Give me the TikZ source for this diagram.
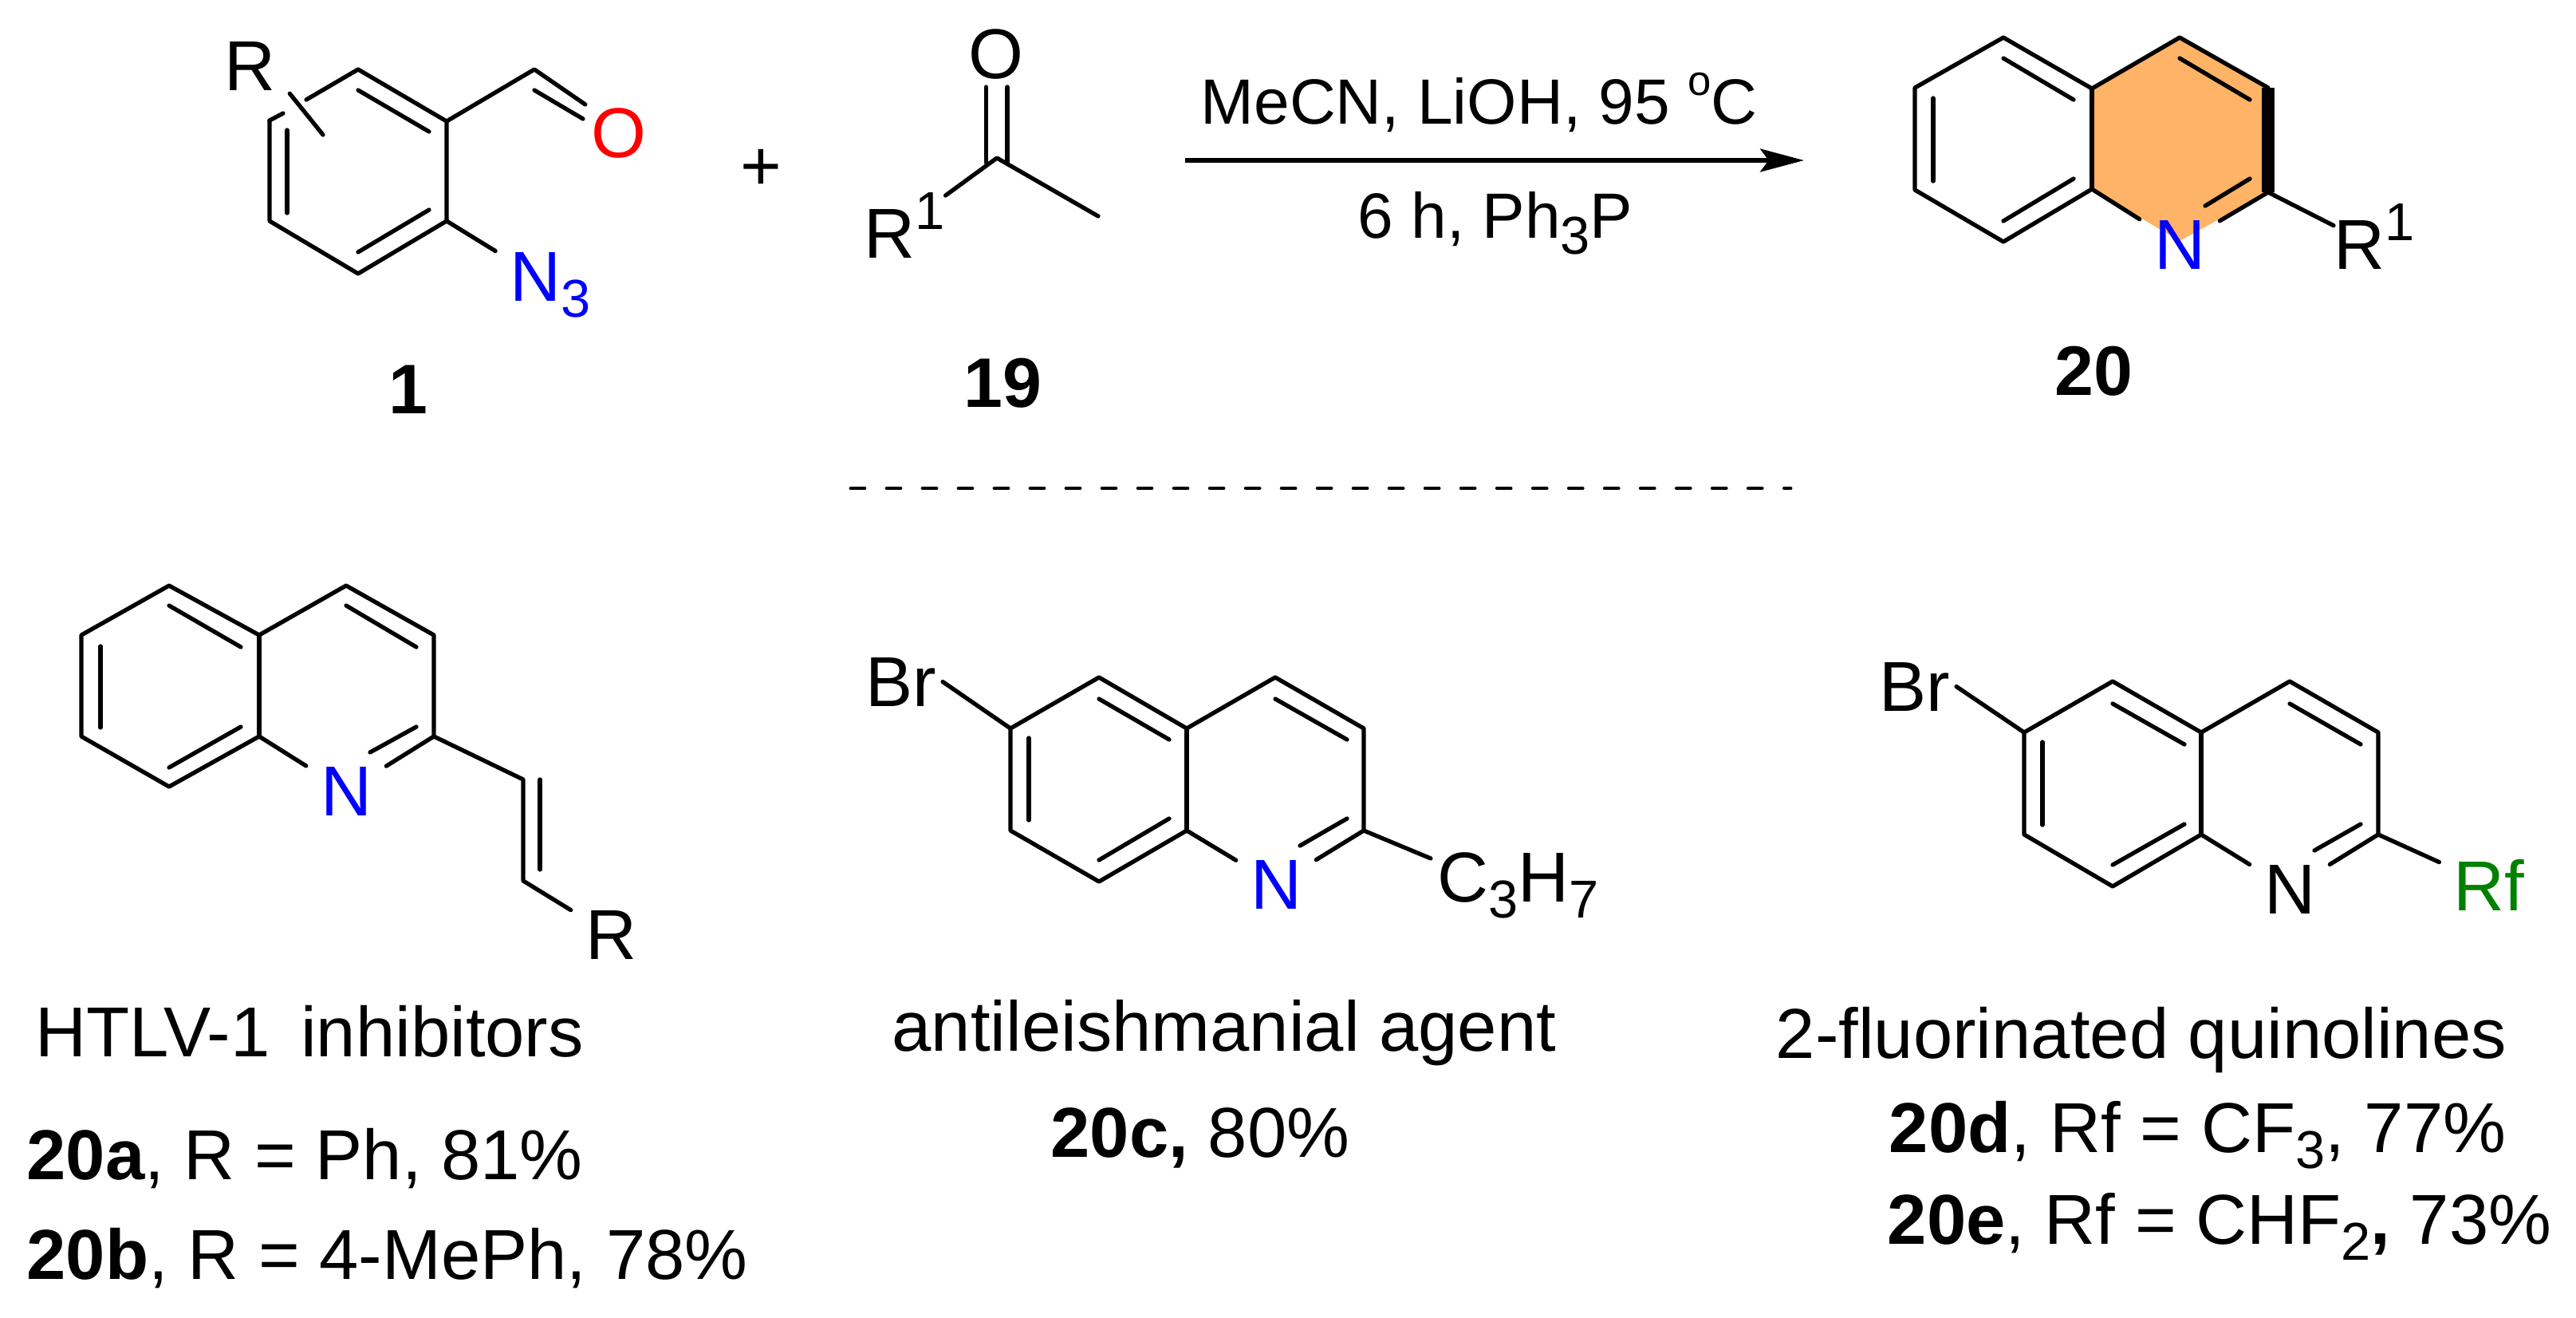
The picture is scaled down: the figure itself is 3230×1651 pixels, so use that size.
\documentclass[tikz,border=0pt]{standalone}
\usepackage{fontspec}
\setmainfont{Liberation Sans}
\usetikzlibrary{arrows.meta}
\definecolor{ringfill}{RGB}{255,179,102}
\definecolor{rfgreen}{RGB}{0,128,0}
\tikzset{
    bond/.style={line width=1.5pt,line cap=round,line join=round},
    atom/.style={inner xsep=5pt,inner ysep=1pt,anchor=base,font=\fontsize{25.2}{30}\selectfont},
    caption/.style={inner sep=0pt,anchor=base west,font=\fontsize{25.2}{30}\selectfont},
    reagent/.style={inner sep=0pt,anchor=base west,font=\fontsize{22.8}{27}\selectfont}
}
\begin{document}
\begin{tikzpicture}[x=0.01cm,y=-0.01cm]
        \def\lowr#1{\raisebox{-5.7pt}{\fontsize{19}{20}\selectfont #1}}
        \def\upr#1{\raisebox{10pt}{\fontsize{19}{20}\selectfont #1}}
        \def\quinoline#1{
            \draw[bond] (#15) -- (#14) -- (#13) -- (#12) -- (#11) -- (#16) -- (#17) -- (#18) -- (#19);
            \draw[bond] (#15) -- (#16);
            \draw[bond] (#1i1) -- (#1j1);
            \draw[bond] (#1i2) -- (#1j2);
            \draw[bond] (#1i4) -- (#1j4);
            \draw[bond] (#1i7) -- (#1j7);
            \draw[bond] (#1i9) -- (#1j9);
        }
        \useasboundingbox (0,0) rectangle (3230,1651);

        % Azido aldehyde
        \path coordinate (a1) at (449,87) coordinate (a2) at (560,152) coordinate (a3) at (560,277)
              coordinate (a4) at (449,343) coordinate (a5) at (338,277) coordinate (a6) at (338,151)
              coordinate (acho) at (670,87) coordinate (agapa) at (355,142) coordinate (agapb) at (384,125)
              coordinate (aend) at (405,169);
        \node[atom,text=red,inner xsep=2pt] (ao) at (776,197) {O};
        \node[atom,text=blue] (an) at (690,377) {N\lowr{3}};
        \node[atom] (ar) at (313,113) {R};
        \draw[bond] (a6) -- (agapa);
        \draw[bond] (agapb) -- (a1) -- (a2) -- (a3) -- (a4) -- (a5) -- (a6);
        \draw[bond] (ar.south east) -- (aend);
        \draw[bond] (a2) -- (acho) -- (ao.north west);
        \draw[bond] (670,113) -- (731,149);
        \draw[bond] (a3) -- (an);
        \draw[bond] (360,163) -- (360,267);
        \draw[bond] (449,113) -- (538,165);
        \draw[bond] (449,316) -- (538,263);
        \node[caption,font=\fontsize{25}{30}\bfseries] (lone) at (487,518) {1};

        \node[atom,inner sep=0pt] (plus) at (954,238) {+};

        % Methyl ketone
        \path coordinate (kc) at (1250,198) coordinate (kme) at (1377,271)
              coordinate (kla) at (1236.5,109) coordinate (klb) at (1236.5,204)
              coordinate (kra) at (1263,109) coordinate (krb) at (1263,204);
        \node[atom] (ko) at (1249,98) {O};
        \node[atom,inner xsep=0pt,anchor=base west] (kr) at (1083,323) {R\upr{1}};
        \draw[bond] (kla) -- (klb);
        \draw[bond] (kra) -- (krb);
        \draw[bond] (kr) -- (kc) -- (kme);
        \node[caption,font=\fontsize{25}{30}\bfseries] (lnineteen) at (1208,510) {19};

        % Reaction arrow
        \coordinate (arra) at (1486,201);
        \coordinate (arrb) at (2262,201);
        \draw[line width=1.6pt,-{Stealth[length=15.6pt,width=8.2pt,inset=3pt]}] (arra) -- (arrb);
        \node[reagent] (rtop) at (1505,155) {MeCN, LiOH, 95 \upr{\fontsize{15}{16}\selectfont o}C};
        \node[reagent] (rbot) at (1702,298) {6 h, Ph\lowr{3}P};

        % Product with shaded ring
        \path coordinate (p1) at (2512,47) coordinate (p2) at (2401,110) coordinate (p3) at (2401,238)
              coordinate (p4) at (2512,303) coordinate (p5) at (2623,237) coordinate (p6) at (2623,111)
              coordinate (p7) at (2733,47) coordinate (p8) at (2844,110) coordinate (p9) at (2844,241)
              coordinate (papex) at (2733,302)
              coordinate (pi1) at (2512,73) coordinate (pj1) at (2600,125)
              coordinate (pi2) at (2424,123) coordinate (pj2) at (2424,227)
              coordinate (pi4) at (2512,277) coordinate (pj4) at (2600,224)
              coordinate (pi7) at (2733,73) coordinate (pj7) at (2821,125)
              coordinate (pi9) at (2765,258) coordinate (pj9) at (2821,224)
              coordinate (pt) at (2844,110);
        \fill[ringfill] (p5) -- (p6) -- (p7) -- (p8) -- (p9) -- (papex) -- cycle;
        \node[atom,text=blue] (pn) at (2733,337) {N};
        \node[atom,inner xsep=0pt,anchor=base west] (pr) at (2926,337) {R\upr{1}};
        \quinoline{p}
        \draw[line width=4.6pt] (pt) -- (p9);
        \draw[bond] (p5) -- (pn);
        \draw[bond] (p9) -- (pn);
        \draw[bond] (p9) -- (pr.165);
        \node[caption,font=\fontsize{25}{30}\bfseries] (ltwenty) at (2576,495) {20};

        % Dashed rule
        \coordinate (rulea) at (1067,612);
        \coordinate (ruleb) at (2245,612);
        \draw[line width=1.4pt,line cap=round,dash pattern=on 4.8pt off 8pt] (rulea) -- (ruleb);

        % Vinyl quinoline
        \path coordinate (qa1) at (212,734) coordinate (qa2) at (102,796) coordinate (qa3) at (102,923)
              coordinate (qa4) at (212,986) coordinate (qa5) at (325,923) coordinate (qa6) at (325,796)
              coordinate (qa7) at (434,734) coordinate (qa8) at (544,796) coordinate (qa9) at (544,923)
              coordinate (qavb) at (656,977) coordinate (qavc) at (656,1104)
              coordinate (qai1) at (212,759) coordinate (qaj1) at (302,811)
              coordinate (qai2) at (126,810) coordinate (qaj2) at (126,912)
              coordinate (qai4) at (212,962) coordinate (qaj4) at (302,911)
              coordinate (qai7) at (434,759) coordinate (qaj7) at (522,811)
              coordinate (qai9) at (464,943) coordinate (qaj9) at (522,911)
              coordinate (qavi) at (677,977) coordinate (qavj) at (677,1090);
        \node[atom,text=blue] (qan) at (434,1022) {N};
        \node[atom] (qar) at (766,1202) {R};
        \quinoline{qa}
        \draw[bond] (qa5) -- (qan);
        \draw[bond] (qa9) -- (qan);
        \draw[bond] (qa9) -- (qavb) -- (qavc) -- (qar);
        \draw[bond] (qavi) -- (qavj);
        \node[caption] (qatitle) at (44,1324) {HTLV-1\hspace{11pt}inhibitors};
        \node[caption] (qay) at (33,1478) {\textbf{20a}, R = Ph, 81\%};
        \node[caption] (qby) at (33,1603) {\textbf{20b}, R = 4-MePh, 78\%};

        % Bromo propyl quinoline
        \path coordinate (qc1) at (1378,849) coordinate (qc2) at (1267,913) coordinate (qc3) at (1267,1041)
              coordinate (qc4) at (1378,1105) coordinate (qc5) at (1488,1041) coordinate (qc6) at (1488,913)
              coordinate (qc7) at (1599,849) coordinate (qc8) at (1710,913) coordinate (qc9) at (1710,1041)
              coordinate (qce) at (1794,1076)
              coordinate (qci1) at (1378,876) coordinate (qcj1) at (1466,927)
              coordinate (qci2) at (1290,925) coordinate (qcj2) at (1290,1028)
              coordinate (qci4) at (1378,1078) coordinate (qcj4) at (1466,1026)
              coordinate (qci7) at (1599,876) coordinate (qcj7) at (1689,927)
              coordinate (qci9) at (1630,1060) coordinate (qcj9) at (1689,1026);
        \node[atom,text=blue] (qcn) at (1600,1139) {N};
        \node[atom,inner xsep=2pt] (qcbr) at (1130,885) {Br};
        \node[caption] (qcc) at (1802,1130) {C\lowr{3}H\lowr{7}};
        \quinoline{qc}
        \draw[bond] (qc5) -- (qcn);
        \draw[bond] (qc9) -- (qcn);
        \draw[bond] (qc2) -- (qcbr.east);
        \draw[bond] (qc9) -- (qce);
        \node[caption] (qctitle) at (1118,1317) {antileishmanial agent};
        \node[caption] (qcy) at (1317,1450) {\textbf{20c,} 80\%};

        % Bromo fluoroalkyl quinoline
        \path coordinate (qd1) at (2649,854) coordinate (qd2) at (2538,918) coordinate (qd3) at (2538,1046)
              coordinate (qd4) at (2649,1111) coordinate (qd5) at (2760,1046) coordinate (qd6) at (2760,918)
              coordinate (qd7) at (2871,854) coordinate (qd8) at (2982,918) coordinate (qd9) at (2982,1046)
              coordinate (qdi1) at (2649,882) coordinate (qdj1) at (2739,933)
              coordinate (qdi2) at (2561,930) coordinate (qdj2) at (2561,1034)
              coordinate (qdi4) at (2649,1084) coordinate (qdj4) at (2739,1033)
              coordinate (qdi7) at (2871,882) coordinate (qdj7) at (2960,933)
              coordinate (qdi9) at (2902,1066) coordinate (qdj9) at (2960,1033);
        \node[atom] (qdn) at (2871,1145) {N};
        \node[atom,inner xsep=2pt] (qdbr) at (2401,891) {Br};
        \node[atom,text=rfgreen] (qdr) at (3121,1141) {Rf};
        \quinoline{qd}
        \draw[bond] (qd5) -- (qdn);
        \draw[bond] (qd9) -- (qdn);
        \draw[bond] (qd2) -- (qdbr.east);
        \draw[bond] (qd9) -- (qdr);
        \node[caption] (qdtitle) at (2226,1326) {2-fluorinated quinolines};
        \node[caption] (qdy) at (2368,1444) {\textbf{20d}, Rf = CF\lowr{3}, 77\%};
        \node[caption] (qey) at (2366,1559) {\textbf{20e}, Rf = CHF\lowr{2}\textbf{,} 73\%};
\end{tikzpicture}
\end{document}
